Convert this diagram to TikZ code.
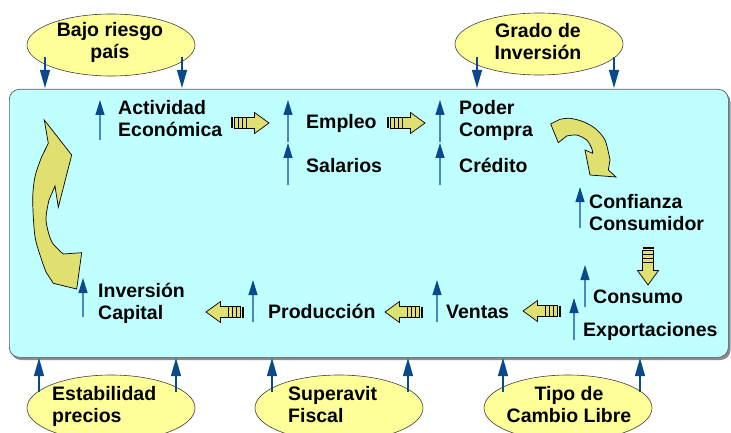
\documentclass[tikz,border=0pt]{standalone}
\usepackage{fontspec}
\setmainfont{Liberation Sans}
\usetikzlibrary{arrows.meta,shapes.geometric}
\definecolor{boxfill}{HTML}{C0FFFF}
\definecolor{ellfill}{HTML}{FFFF99}
\definecolor{blockfill}{HTML}{E0E070}
\definecolor{navy}{HTML}{0A4A8C}
\definecolor{shaft}{HTML}{4A86C0}
\tikzset{
 lbl/.style={font=\fontsize{19.5}{22}\selectfont\bfseries, inner sep=0pt, text=black},
 ell/.style={ellipse, draw=black!75, fill=ellfill, line width=0.6pt, minimum width=168pt, minimum height=62pt, inner sep=0pt},
 blockstyle/.style={draw=black, fill=blockfill, line width=0.7pt, line join=miter},
 outarrow/.style={draw=navy, line width=1.3pt, -{Triangle[length=18pt,width=10pt]}},
 inarrow/.style={draw=shaft, line width=1.2pt, -{Triangle[length=15pt,width=9pt,color=navy,fill=navy]}},
 striparrow/.pic={
  \fill[black] (0,-5.5) rectangle (1.6,5.5);
  \foreach \a in {3.6,7.6,11.6} {\draw[blockstyle] (\a,-5.5) rectangle ++(4,11);}
  \draw[blockstyle] (15.6,-5.5) -- (23.5,-5.5) -- (23.5,-10.5) -- (38,0) -- (23.5,10.5) -- (23.5,5.5) -- (15.6,5.5) -- cycle;
 }
}
\begin{document}
\begin{tikzpicture}[x=1pt,y=-1pt]
\useasboundingbox (0,0) rectangle (731,433);
\fill[white] (0,0) rectangle (731,433);
\clip (0,0) rectangle (731,433);

% main box with shadow
\fill[black!45, rounded corners=10pt] (11,92) rectangle (730.5,360);
\node[draw=black!65, fill=boxfill, line width=0.7pt, rounded corners=10pt, minimum width=719pt, minimum height=268pt, inner sep=0pt, anchor=north west] (mainbox) at (9,89) {};

% ellipses
\node[ell] (bajo) at (111,45) {};
\node[ell] (grado) at (539,44) {};
\node[ell, minimum height=66pt] (estab) at (111,408) {};
\node[ell, minimum height=66pt] (super) at (339,408) {};
\node[ell, minimum height=66pt] (tipo) at (568,408) {};

\node[lbl, align=center, anchor=north] (tbajo) at (110,22) {Bajo riesgo\\país};
\node[lbl, align=center, anchor=north] (tgrado) at (538,23) {Grado de\\Inversión};
\node[lbl, align=left, anchor=north west] (testab) at (52,386) {Estabilidad\\precios};
\node[lbl, align=left, anchor=north west] (tsuper) at (288,386) {Superavit\\Fiscal};
\node[lbl, align=center, anchor=north] (ttipo) at (569,386) {Tipo de\\Cambio Libre};

% outer arrows
\coordinate (o1s) at (45,57);  \coordinate (o1e) at (45,88);
\coordinate (o2s) at (182,57); \coordinate (o2e) at (182,88);
\coordinate (o3s) at (477,57); \coordinate (o3e) at (477,88);
\coordinate (o4s) at (614,57); \coordinate (o4e) at (614,88);
\coordinate (u1s) at (39,392);  \coordinate (u1e) at (39,358);
\coordinate (u2s) at (176,392); \coordinate (u2e) at (176,358);
\coordinate (u3s) at (272,392); \coordinate (u3e) at (272,358);
\coordinate (u4s) at (408,392); \coordinate (u4e) at (408,358);
\coordinate (u5s) at (503,392); \coordinate (u5e) at (503,358);
\coordinate (u6s) at (640,392); \coordinate (u6e) at (640,358);
\foreach \n in {o1,o2,o3,o4,u1,u2,u3,u4,u5,u6} {\draw[outarrow] (\n s) -- (\n e);}

% inner labels
\node[lbl, align=left, anchor=north west] (activ) at (118,100) {Actividad\\Económica};
\node[lbl, anchor=base west] (empleo) at (306,129) {Empleo};
\node[lbl, anchor=base west] (salar) at (306,172) {Salarios};
\node[lbl, align=left, anchor=north west] (poder) at (459,100) {Poder\\Compra};
\node[lbl, anchor=base west] (credito) at (459,172) {Crédito};
\node[lbl, align=left, anchor=north west] (confi) at (589,194) {Confianza\\Consumidor};
\node[lbl, anchor=base west] (consumo) at (593,303) {Consumo};
\node[lbl, anchor=base west] (export) at (583,336) {Exportaciones};
\node[lbl, anchor=base west] (ventas) at (446,318) {Ventas};
\node[lbl, anchor=base west] (produc) at (268,318) {Producción};
\node[lbl, align=left, anchor=north west] (inver) at (98,283) {Inversión\\Capital};

% inner arrows
\coordinate (i1s) at (100,140); \coordinate (i1e) at (100,100);
\coordinate (i2s) at (288,142); \coordinate (i2e) at (288,100);
\coordinate (i3s) at (288,185); \coordinate (i3e) at (288,143);
\coordinate (i4s) at (440,142); \coordinate (i4e) at (440,100);
\coordinate (i5s) at (440,185); \coordinate (i5e) at (440,143);
\coordinate (i6s) at (580,228); \coordinate (i6e) at (580,187);
\coordinate (i7s) at (585,307); \coordinate (i7e) at (585,265);
\coordinate (i8s) at (574,340); \coordinate (i8e) at (574,298);
\coordinate (i9s) at (437,322); \coordinate (i9e) at (437,280);
\coordinate (i10s) at (253,322); \coordinate (i10e) at (253,280);
\coordinate (i11s) at (83,317); \coordinate (i11e) at (83,278);
\foreach \n in {i1,i2,i3,i4,i5,i6,i7,i8,i9,i10,i11} {\draw[inarrow] (\n s) -- (\n e);}

% striped block arrows
\pic at (231,123) {striparrow};
\pic at (387,123) {striparrow};
\pic[rotate=-90] at (648,247) {striparrow};
\pic[rotate=180] at (561,311) {striparrow};
\pic[rotate=180] at (423,312) {striparrow};
\pic[rotate=180] at (244,312) {striparrow};

% curved arrows
\draw[blockstyle] (44.3,120) -- (71.7,155) -- (58.3,207.3) -- (55,186)
  -- plot[smooth] coordinates {(49,200) (46,220) (51.7,241.7) (63.3,254)}
  -- (81.7,252.7) -- (76.7,289) -- (53.3,283.3)
  -- plot[smooth] coordinates {(46,272) (41.7,260) (35,236.7) (32.7,200) (35,176.7) (41.7,156.7)}
  -- (48.3,143.3) -- cycle;
\draw[blockstyle] (550.7,124) -- (558.3,142.7)
  -- plot[smooth] coordinates {(566.7,136) (576.7,135) (586.7,140) (591.7,148.3) (592.7,153.3)}
  -- (585,150) -- (590,175) -- (616,177) -- (608.3,170)
  -- plot[smooth] coordinates {(610,160) (605,140) (595,128.3) (583.3,121.7) (570,118.3) (560,119.3)}
  -- cycle;
\end{tikzpicture}
\end{document}
